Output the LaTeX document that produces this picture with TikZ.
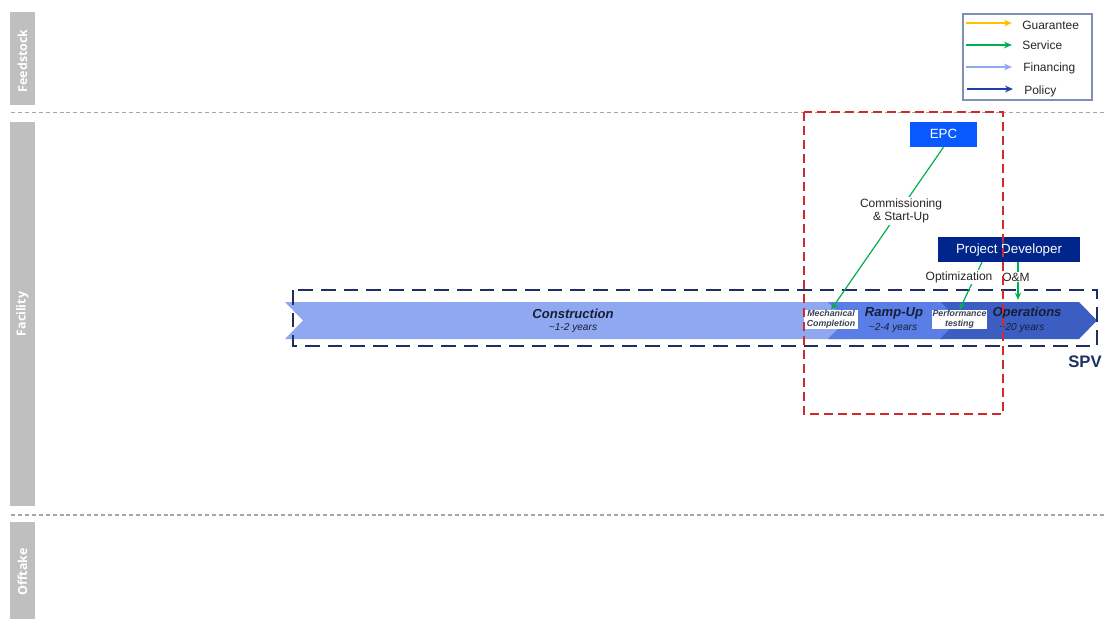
\documentclass[tikz,border=0pt]{standalone}
\usepackage{fontspec}
\setmainfont{Liberation Sans}
\newfontfamily\lanefont{Open Sans}
\usetikzlibrary{arrows.meta}

\definecolor{lanegray}{HTML}{BFBFBF}
\definecolor{sepgray}{HTML}{A6A6A6}
\definecolor{guarantee}{HTML}{FFC000}
\definecolor{service}{HTML}{00B050}
\definecolor{financing}{HTML}{8FAAF2}
\definecolor{policy}{HTML}{1F3FAF}
\definecolor{legendframe}{HTML}{8090B5}
\definecolor{redframe}{HTML}{D02A2A}
\definecolor{spvnavy}{HTML}{1F3060}
\definecolor{epcblue}{HTML}{0A58FF}
\definecolor{devnavy}{HTML}{00268C}
\definecolor{phaseA}{HTML}{8FA8F0}
\definecolor{phaseB}{HTML}{5A7DE6}
\definecolor{phaseC}{HTML}{3C5DC2}
\definecolor{textnavy}{HTML}{16203A}

\tikzset{
  lanebar/.style={fill=lanegray, draw=none},
  lanelabel/.style={rotate=90, text=white, font=\lanefont\bfseries\fontsize{9.3}{11}\selectfont, inner sep=0pt},
  lanesep/.style={sepgray, line width=0.8pt, dash pattern=on 3pt off 2.2pt},
  legendarrow/.style={line width=1.1pt, -{Stealth[length=6pt,width=5pt]}},
  legendtext/.style={anchor=base west, font=\fontsize{9}{10}\selectfont, inner sep=0pt, text=black!85},
  actorbox/.style={text=white, font=\fontsize{10}{11}\selectfont, inner sep=0pt, minimum height=18.5pt, text height=7.2pt, text depth=1.6pt},
  flowarrow/.style={service, line width=0.9pt, -{Stealth[length=5.5pt,width=4.5pt]}},
  flowlabel/.style={fill=white, font=\fontsize{9}{10}\selectfont, inner sep=1pt, text=black!85, align=center},
  phasetitle/.style={font=\bfseries\itshape\fontsize{9.8}{11}\selectfont, text=textnavy, inner sep=0pt},
  phasespan/.style={font=\itshape\fontsize{7.6}{9}\selectfont, text=textnavy, inner sep=0pt},
  milestone/.style={fill=white, font=\bfseries\itshape\fontsize{6.6}{7.4}\selectfont, text=textnavy!85, align=center, inner sep=0.3pt, minimum width=40.5pt, minimum height=13.5pt},
}

\begin{document}
\begin{tikzpicture}[x=0.75pt, y=-0.75pt]
\useasboundingbox (0,0) rectangle (1105,619);
\fill[white] (0,0) rectangle (1105,619);

% swim lanes
\fill[lanebar] (10,12) rectangle (35,105);
\fill[lanebar] (10,122) rectangle (35,506);
\fill[lanebar] (10,522) rectangle (35,619);
\node[lanelabel] (feed) at (22.5,61) {Feedstock};
\node[lanelabel] (fac) at (22.5,314) {Facility};
\node[lanelabel] (off) at (22.5,572) {Offtake};
\draw[lanesep] (11,112.5) -- (1105,112.5);
\draw[lanesep] (11,515) -- (1105,515);

% legend
\draw[legendframe, line width=0.8pt] (963,14) rectangle (1092,100);
\coordinate (lg1a) at (966,23);  \coordinate (lg1b) at (1012,23);
\coordinate (lg2a) at (966,45);  \coordinate (lg2b) at (1012,45);
\coordinate (lg3a) at (966,67);  \coordinate (lg3b) at (1012,67);
\coordinate (lg4a) at (967,89);  \coordinate (lg4b) at (1013,89);
\draw[legendarrow, guarantee] (lg1a) -- (lg1b);
\draw[legendarrow, service] (lg2a) -- (lg2b);
\draw[legendarrow, financing] (lg3a) -- (lg3b);
\draw[legendarrow, policy] (lg4a) -- (lg4b);
\node[legendtext] (lgt1) at (1022,29) {Guarantee};
\node[legendtext] (lgt2) at (1022,49.5) {Service};
\node[legendtext] (lgt3) at (1023,71) {Financing};
\node[legendtext] (lgt4) at (1024,94) {Policy};

% project phases
\fill[phaseA] (285,302) -- (851,302) -- (869,320.5) -- (851,339) -- (285,339) -- (303,320.5) -- cycle;
\fill[phaseB] (828,302) -- (943,302) -- (961,320.5) -- (943,339) -- (828,339) -- (846,320.5) -- cycle;
\fill[phaseC] (941,302) -- (1079,302) -- (1097,320.5) -- (1079,339) -- (940,339) -- (958,320.5) -- cycle;

\node[phasetitle] (con) at (573,313.5) {Construction};
\node[phasespan] (cony) at (573,328) {\textasciitilde1-2 years};
\node[phasetitle] (ramp) at (894,313.5) {Ramp-Up};
\node[phasespan] (rampy) at (893,328.5) {\textasciitilde2-4 years};
\node[phasetitle] (ops) at (1027,313.5) {Operations};
\node[phasespan] (opsy) at (1022,328.5) {\textasciitilde20 years};

\node[milestone] (mc) at (831,319.5) {Mechanical\\Completion};
\node[milestone] (pt) at (959.5,319.5) {Performance\\testing};

% special purpose vehicle
\draw[spvnavy, line width=2pt, dash pattern=on 11pt off 6pt] (293,290) rectangle (1097,346);
\node[font=\bfseries\fontsize{12.5}{14}\selectfont, text=spvnavy, inner sep=0pt] (spv) at (1085,361.5) {SPV};

% actors
\node[actorbox, fill=epcblue, minimum width=50pt] (epc) at (943.5,134.5) {EPC};
\node[actorbox, fill=devnavy, minimum width=106pt] (pd) at (1009,249.5) {Project Developer};

% service flows
\coordinate (opsin) at (1018,300);
\draw[flowarrow] (epc.south) -- (mc.north);
\node[flowlabel] (comm) at (901,211) {Commissioning\\[0.3pt]\& Start-Up};
\draw[flowarrow] (pd.south -| 982,0) -- (pt.north);
\draw[flowarrow] (pd.south -| opsin) -- (opsin);
\node[flowlabel] (optl) at (959,277) {Optimization};
\node[flowlabel, inner sep=0.5pt] (oml) at (1016,277) {O\&M};

% scope of the EPC contract
\draw[redframe, line width=1.4pt, dash pattern=on 7pt off 3.5pt] (804,112) rectangle (1003,414);
\end{tikzpicture}
\end{document}
